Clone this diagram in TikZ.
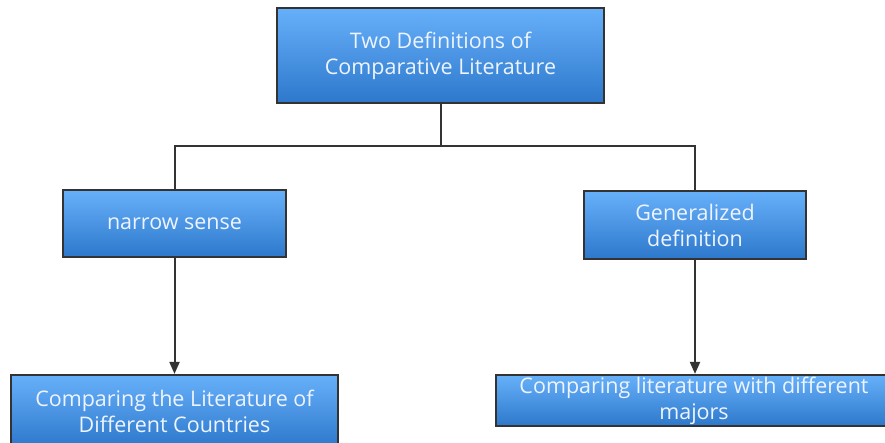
\documentclass[tikz,border=0pt]{standalone}
\usepackage{fontspec}
\setmainfont{Open Sans}
\usepackage{tikz}
\usetikzlibrary{arrows.meta}

\definecolor{boxtop}{HTML}{66B0FA}
\definecolor{boxbot}{HTML}{2E78CC}
\definecolor{edge}{HTML}{333333}
\definecolor{boxtext}{HTML}{EEF4FF}

\begin{document}
\begin{tikzpicture}[x=1pt, y=-1pt,
    defbox/.style={draw=edge, line width=2.2pt, top color=boxtop, bottom color=boxbot,
      text=boxtext, align=center, inner sep=0pt,
      font=\fontsize{21.5}{26}\selectfont},
    link/.style={draw=edge, line width=2pt},
    tip/.style={-{Triangle[length=12pt, width=10pt]}}]
    \useasboundingbox (0,0) rectangle (885,442);

    % draw boxes
    \node[defbox, minimum width=327pt, minimum height=95pt] (top) at (440.5,55.5)
      {Two Definitions of\\Comparative Literature};
    \node[defbox, minimum width=223pt, minimum height=67pt] (narrow) at (174.5,223.5)
      {narrow sense};
    \node[defbox, minimum width=222pt, minimum height=68pt] (general) at (695,225)
      {Generalized\\definition};
    \node[defbox, minimum width=327pt, minimum height=72pt] (countries) at (174.5,411)
      {Comparing the Literature of\\Different Countries};
    \node[defbox, minimum width=396pt, minimum height=51pt] (majors) at (694,400.5)
      {Comparing literature with different\\majors};

    % draw connectors
    \coordinate (split) at (440.5,146);
    \draw[link] (top) -- (split);
    \draw[link] (narrow.north) |- (split) -| (general.north);
    \draw[link, tip] (narrow) -- (countries);
    \draw[link, tip] (general) -- (general |- majors.north);
\end{tikzpicture}
\end{document}
